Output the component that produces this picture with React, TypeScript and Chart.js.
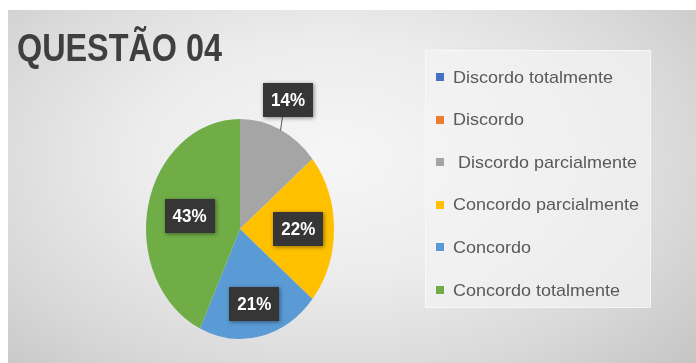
import React, { useEffect, useRef } from "react";
import { Chart, registerables } from "chart.js";

Chart.register(...registerables);

// ---- data ----
const categories = [
  "Discordo totalmente",
  "Discordo",
  " Discordo parcialmente",
  "Concordo parcialmente",
  "Concordo",
  "Concordo totalmente",
];
const percentages = [0, 0, 14, 22, 21, 43];
const sliceColors = ["#4472C4", "#ED7D31", "#A5A5A5", "#FFC000", "#5B9BD5", "#70AD47"];
const chartTitle = "QUESTÃO 04";

// ---- styling ----
const STRETCH = 1.17; // vertical stretch of pie (ellipse look)
const LABEL_RADII = [0, 0, 1.3, 0.62, 0.7, 0.55];
const FONT_STACK = "'Liberation Sans Narrow', 'Liberation Sans', Arial, sans-serif";

function drawScaledText(ctx: CanvasRenderingContext2D, text: string, x: number, y: number, scaleX: number) {
  ctx.save();
  ctx.translate(x, y);
  ctx.scale(scaleX, 1);
  ctx.fillText(text, 0, 0);
  ctx.restore();
}

const decorPlugin = {
  id: "decor",
  beforeDatasetsDraw(chart: any) {
    const arc = chart.getDatasetMeta(0).data[0];
    const ctx = chart.ctx;
    ctx.save();
    ctx.translate(arc.x, arc.y);
    ctx.scale(1, STRETCH);
    ctx.translate(-arc.x, -arc.y);
  },
  afterDatasetsDraw(chart: any) {
    const ctx: CanvasRenderingContext2D = chart.ctx;
    ctx.restore();
    const meta = chart.getDatasetMeta(0);
    const total = percentages.reduce((a, b) => a + b, 0);
    meta.data.forEach((arc: any, i: number) => {
      const v = percentages[i];
      if (!v) return;
      const { x, y, startAngle, endAngle, outerRadius } = arc.getProps(
        ["x", "y", "startAngle", "endAngle", "outerRadius"],
        true
      );
      const mid = (startAngle + endAngle) / 2;
      const f = LABEL_RADII[i];
      let lx = x + Math.cos(mid) * outerRadius * f;
      const ly = y + Math.sin(mid) * outerRadius * STRETCH * f;
      const bw = 50;
      const bh = 34;
      if (f > 1) {
        lx -= 4;
        // leader line
        const ex = x + Math.cos(mid) * outerRadius;
        const ey = y + Math.sin(mid) * outerRadius * STRETCH;
        ctx.save();
        ctx.strokeStyle = "#595959";
        ctx.lineWidth = 1;
        ctx.beginPath();
        ctx.moveTo(Math.round(ex + 2) + 0.5, ly + bh / 2);
        ctx.lineTo(Math.round(ex) + 0.5, ey + 1);
        ctx.stroke();
        ctx.restore();
      }
      ctx.save();
      ctx.shadowColor = "rgba(0,0,0,0.45)";
      ctx.shadowBlur = 4;
      ctx.shadowOffsetX = 1;
      ctx.shadowOffsetY = 1;
      ctx.fillStyle = "#363636";
      ctx.fillRect(Math.round(lx - bw / 2), Math.round(ly - bh / 2), bw, bh);
      ctx.restore();
      ctx.save();
      ctx.fillStyle = "#ffffff";
      ctx.font = `bold 19px ${FONT_STACK}`;
      ctx.textBaseline = "middle";
      ctx.textAlign = "left";
      const txt = `${Math.round((v / total) * 100)}%`;
      const w = ctx.measureText(txt).width;
      const target = 34;
      const s = target / w;
      drawScaledText(ctx, txt, lx - target / 2, ly + 1, s);
      ctx.restore();
    });
  },
  afterDraw(chart: any) {
    const ctx: CanvasRenderingContext2D = chart.ctx;
    // title
    ctx.save();
    ctx.fillStyle = "#3f3f3f";
    ctx.font = `bold 39px ${FONT_STACK}`;
    ctx.textBaseline = "alphabetic";
    ctx.textAlign = "left";
    const tw = ctx.measureText(chartTitle).width;
    drawScaledText(ctx, chartTitle, 17, 61, 205 / tw);
    ctx.restore();

    // legend box
    ctx.save();
    ctx.fillStyle = "rgba(244,244,244,0.7)";
    ctx.fillRect(425, 50, 226, 258);
    ctx.strokeStyle = "rgba(255,255,255,0.5)";
    ctx.lineWidth = 1;
    ctx.strokeRect(425.5, 50.5, 225, 257);
    ctx.restore();

    // legend items
    ctx.save();
    ctx.font = `17px ${FONT_STACK}`;
    ctx.textBaseline = "middle";
    ctx.textAlign = "left";
    const refW = ctx.measureText("Discordo totalmente").width;
    const sx = 160 / refW;
    categories.forEach((label, i) => {
      const cy = 77 + i * 42.6;
      ctx.fillStyle = sliceColors[i];
      ctx.fillRect(436, Math.round(cy - 4), 8, 8);
      ctx.fillStyle = "#595959";
      drawScaledText(ctx, label, 453, cy + 1, sx);
    });
    ctx.restore();
  },
};

export default function App() {
  const canvasRef = useRef<HTMLCanvasElement | null>(null);

  useEffect(() => {
    document.body.style.margin = "0";
    const canvas = canvasRef.current;
    if (!canvas) return;
    const chart = new Chart(canvas, {
      type: "pie",
      data: {
        labels: categories,
        datasets: [
          {
            data: percentages,
            backgroundColor: sliceColors,
            borderWidth: 0,
            hoverOffset: 0,
            offset: 0,
            clip: false,
          } as any,
        ],
      },
      options: {
        responsive: false,
        animation: false,
        devicePixelRatio: 1,
        layout: { padding: { left: 146, right: 362, top: 135, bottom: 40 } },
        plugins: {
          legend: { display: false },
          title: { display: false },
          tooltip: { enabled: false },
        },
      },
      plugins: [decorPlugin],
    });
    return () => chart.destroy();
  }, []);

  return (
    <div style={{ position: "relative", width: 696, height: 363, background: "#ffffff", overflow: "hidden" }}>
      <div
        style={{
          position: "absolute",
          left: 8,
          top: 10,
          right: 0,
          bottom: 0,
          background:
            "radial-gradient(ellipse 70% 85% at 47% 42%, #f6f6f6 0%, #ececec 40%, #d8d8d8 75%, #c6c6c6 100%)",
        }}
      />
      <canvas ref={canvasRef} width={696} height={363} style={{ position: "absolute", left: 0, top: 0 }} />
    </div>
  );
}
